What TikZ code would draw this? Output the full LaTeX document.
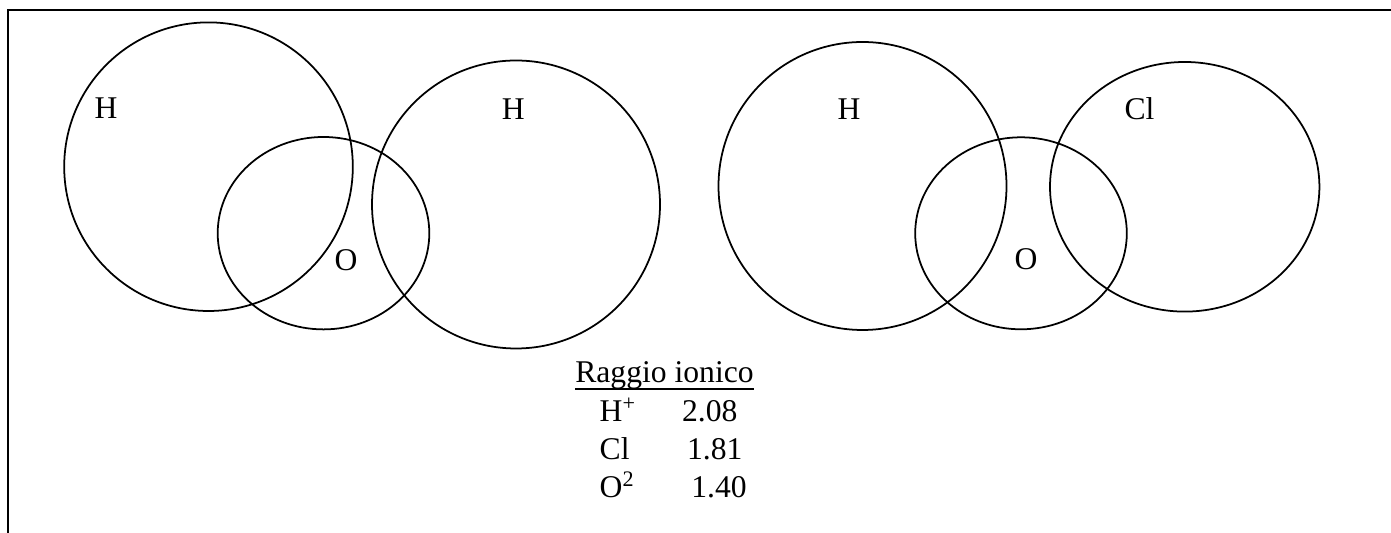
\documentclass[tikz,border=0pt]{standalone}
\usepackage{fontspec}
\setmainfont{Liberation Serif}
\usetikzlibrary{calc}
\tikzset{
  frame/.style = {draw=black, line width=1.4pt},
  atom/.style  = {draw=black, line width=1pt},
  sym/.style   = {font=\fontsize{18}{21.6}\selectfont, inner sep=0pt},
  cell/.style  = {font=\fontsize{18}{21.6}\selectfont, anchor=base west, inner sep=0pt},
}

\begin{document}
\begin{tikzpicture}[x=0.02cm,y=0.02cm]
  \useasboundingbox (0,0) rectangle (1391,533);
  \draw[frame] (8,0) -- (8,523) -- (1391,523);

  % H2O
  \draw[atom] (208.5,366.3) circle (144.3);
  \draw[atom] (323.5,299.8) ellipse [x radius=105.8, y radius=96.2];
  \draw[atom] (516,328.5) circle (144);
  \node[sym] (h1) at (106,424.5) {H};
  \node[sym] (o1) at (346,272.7) {O};
  \node[sym] (h2) at (513.3,424.2) {H};

  % HOCl
  \draw[atom] (862.5,347) circle (144);
  \draw[atom] (1021,299.7) ellipse [x radius=105.8, y radius=96];
  \draw[atom] (1184.7,346.2) ellipse [x radius=134.7, y radius=124.8];
  \node[sym] (h3) at (849,424) {H};
  \node[sym] (o2) at (1026,273.5) {O};
  \node[sym] (cl) at (1139.5,424) {Cl};

  % raggio ionico
  \node[cell] (title) at (575,150.3) {Raggio ionico};
  \draw[line width=0.8pt] ($(title.base west)+(0,-6.3)$) -- ($(title.base east)+(0,-6.3)$);
  \node[cell] (ionh)  at (599.3,111)  {H\textsuperscript{+}};
  \node[cell] (valh)  at (681.7,111)  {2.08};
  \node[cell] (ioncl) at (599.3,73.7) {Cl};
  \node[cell] (valcl) at (686.7,73.7) {1.81};
  \node[cell] (iono)  at (599.3,35.3) {O\textsuperscript{2}};
  \node[cell] (valo)  at (691,35.3)   {1.40};
\end{tikzpicture}
\end{document}
